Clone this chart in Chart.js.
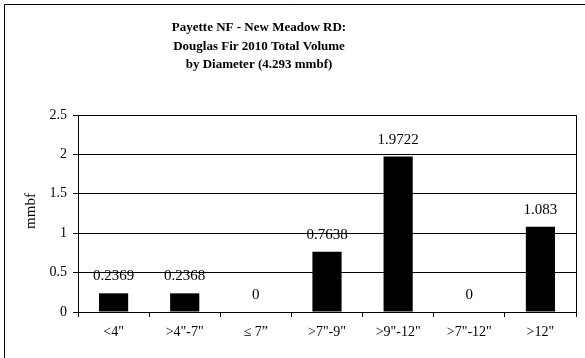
<!DOCTYPE html>
<html>
<head>
<meta charset="utf-8">
<script src="https://cdn.jsdelivr.net/npm/chart.js@4/dist/chart.umd.min.js"></script>
<style>
  html, body { margin: 0; padding: 0; background: #fff; }
  #wrap { position: relative; width: 585px; height: 358px; }
</style>
</head>
<body>
<div id="wrap"><canvas id="c" width="585" height="358"></canvas></div>
<script>
const categories = ['<4"', '>4"-7"', '\u2264 7\u201D', '>7"-9"', '>9"-12"', '>7"-12"', '>12"'];
const volumes = [0.2369, 0.2368, 0, 0.7638, 1.9722, 0, 1.083];
const valueLabels = ['0.2369', '0.2368', '0', '0.7638', '1.9722', '0', '1.083'];
const yTicks = [0, 0.5, 1, 1.5, 2, 2.5];
const titleLines = ['Payette NF - New Meadow RD:', 'Douglas Fir 2010 Total Volume', 'by Diameter (4.293 mmbf)'];
const yAxisTitle = 'mmbf';

const FONT = "'Liberation Serif', 'Times New Roman', serif";

const decor = {
  id: 'decor',
  afterDraw(chart) {
    const ctx = chart.ctx;
    const a = chart.chartArea;
    ctx.save();
    ctx.strokeStyle = '#000';
    ctx.lineWidth = 1;
    ctx.beginPath();
    ctx.moveTo(4.5, 358);
    ctx.lineTo(4.5, 4.5);
    ctx.lineTo(585, 4.5);
    ctx.stroke();
    ctx.strokeRect(Math.round(a.left) + 0.5, Math.round(a.top) + 0.5, Math.round(a.right - a.left), Math.round(a.bottom - a.top));
    ctx.fillStyle = '#000';
    ctx.font = 'bold 13px ' + FONT;
    ctx.textAlign = 'center';
    ctx.textBaseline = 'middle';
    titleLines.forEach((t, i) => ctx.fillText(t, 259, 28 + i * 18.5));
    ctx.font = '15px ' + FONT;
    ctx.save();
    ctx.translate(31, 211);
    ctx.rotate(-Math.PI / 2);
    ctx.fillText(yAxisTitle, 0, 0);
    ctx.restore();
    const meta = chart.getDatasetMeta(0);
    meta.data.forEach((bar, i) => {
      ctx.fillText(valueLabels[i], bar.x, bar.y - 17);
    });
    ctx.restore();
  }
};

new Chart(document.getElementById('c'), {
  type: 'bar',
  data: {
    labels: categories,
    datasets: [{
      data: volumes,
      backgroundColor: '#000',
      borderWidth: 0,
      barPercentage: 0.41,
      categoryPercentage: 1.0
    }]
  },
  options: {
    responsive: false,
    animation: false,
    devicePixelRatio: 1,
    layout: { padding: { left: 0, right: 9, top: 115, bottom: 0 } },
    plugins: { legend: { display: false }, tooltip: { enabled: false }, title: { display: false } },
    scales: {
      x: {
        offset: true,
        grid: { display: true, drawOnChartArea: false, offset: true, color: '#000', tickLength: 5, lineWidth: 1 },
        border: { display: true, color: '#000', width: 1 },
        ticks: { color: '#000', font: { family: FONT, size: 14 }, padding: 7, maxRotation: 0, autoSkip: false },
        afterFit(scale) { scale.height = 358 - 312; }
      },
      y: {
        min: 0, max: 2.5,
        afterBuildTicks(scale) { scale.ticks = yTicks.map(v => ({ value: v })); },
        grid: { color: '#000', lineWidth: 1, tickLength: 5, drawTicks: true },
        border: { display: true, color: '#000', width: 1 },
        ticks: { color: '#000', font: { family: FONT, size: 14 }, padding: 6,
          callback: v => String(v) },
        afterFit(scale) { scale.width = 78; }
      }
    }
  },
  plugins: [decor]
});
</script>
</body>
</html>
